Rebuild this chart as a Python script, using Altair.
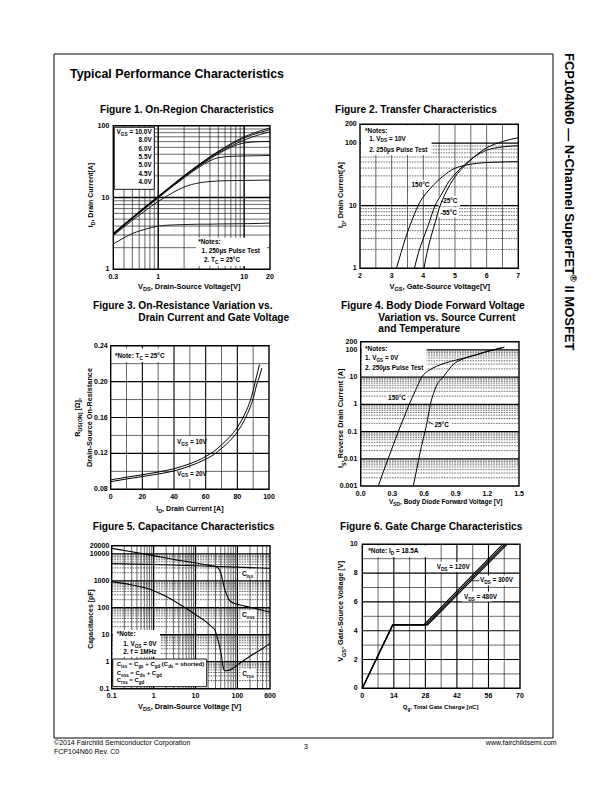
import math
import re
import altair as alt
import pandas as pd

# ---------------------------------------------------------------
# Values
# ---------------------------------------------------------------
# Figure 1 - On-Region Characteristics: I_D [A] vs V_DS [V] (log-log)
f1_vds = [0.3, 0.4, 0.5, 0.7, 1, 1.5, 2, 3, 4, 5, 7, 10, 15, 20]
f1_id_10v = [3.2, 4.25, 5.3, 7.4, 10.4, 15.4, 20.2, 29.0, 37.0, 44.0, 56.0, 70.0, 84.0, 93.0]
f1_id_8v = [3.15, 4.2, 5.25, 7.3, 10.3, 15.2, 19.9, 28.6, 36.4, 43.2, 54.5, 67.5, 80.0, 88.0]
f1_id_6v = [3.1, 4.15, 5.2, 7.25, 10.2, 15.0, 19.6, 28.0, 35.5, 42.0, 52.0, 63.0, 75.0, 82.0]
f1_id_5v5 = [3.05, 4.1, 5.15, 7.15, 10.1, 14.9, 19.3, 27.5, 34.5, 40.5, 50.0, 57.5, 60.0, 60.5]
f1_id_5v = [3.0, 4.05, 5.05, 7.0, 9.9, 14.5, 18.8, 26.5, 32.5, 35.8, 37.4, 37.9, 38.2, 38.5]
f1_id_4v5 = [2.95, 3.9, 4.8, 6.5, 8.8, 11.8, 14.0, 16.0, 16.7, 17.0, 17.2, 17.3, 17.4, 17.5]
f1_id_4v = [2.25, 2.75, 3.15, 3.6, 4.0, 4.15, 4.2, 4.25, 4.25, 4.28, 4.3, 4.32, 4.35, 4.4]
f1_legend = ["V_{GS} = 10.0V", "8.0V", "6.0V", "5.5V", "5.0V", "4.5V", "4.0V"]
f1_xticks = [0.3, 1, 10, 20]
f1_xlabels = ["0.3", "1", "10", "20"]
f1_yticks = [1, 10, 100]
f1_ylabels = ["1", "10", "100"]

# Figure 2 - Transfer Characteristics: I_D [A] vs V_GS [V]
f2_vgs_150c = [3.15, 3.3, 3.47, 3.65, 3.9, 4.1, 4.32, 4.6, 5.0, 5.3, 5.7, 6.2, 7.0]
f2_id_150c = [1.0, 1.8, 3.4, 6.0, 11.6, 16.0, 21.4, 29.0, 39.7, 44.0, 47.7, 49.5, 50.6]
f2_vgs_25c = [3.72, 3.85, 4.0, 4.15, 4.37, 4.6, 4.8, 5.0, 5.3, 5.6, 6.0, 6.5, 7.0]
f2_id_25c = [1.0, 1.8, 3.0, 4.8, 10.0, 16.0, 24.0, 32.0, 45.0, 60.0, 77.0, 87.0, 91.0]
f2_vgs_m55c = [4.02, 4.12, 4.25, 4.37, 4.5, 4.65, 4.85, 5.0, 5.3, 5.6, 6.0, 6.5, 7.0]
f2_id_m55c = [1.0, 1.8, 3.3, 5.3, 9.0, 14.0, 22.0, 29.0, 43.0, 60.0, 84.0, 106.0, 122.0]
f2_xticks = [2, 3, 4, 5, 6, 7]
f2_xlabels = ["2", "3", "4", "5", "6", "7"]
f2_yticks = [1, 10, 100, 200]
f2_ylabels = ["1", "10", "100", "200"]

# Figure 3 - On-Resistance vs Drain Current
f3_id_10v = [0, 10, 20, 30, 40, 50, 60, 65, 70, 75, 80, 85, 88, 90, 92, 94]
f3_r_10v = [0.0905, 0.0935, 0.0962, 0.0992, 0.1030, 0.1085, 0.1165, 0.122, 0.1295, 0.138,
            0.149, 0.165, 0.178, 0.190, 0.205, 0.219]
f3_id_20v = [0, 10, 20, 30, 40, 50, 60, 65, 70, 75, 80, 85, 88, 90, 92, 94, 95.5]
f3_r_20v = [0.0885, 0.0915, 0.0942, 0.097, 0.1005, 0.106, 0.1135, 0.1185, 0.1255, 0.1335,
            0.144, 0.159, 0.171, 0.181, 0.195, 0.206, 0.215]
f3_xticks = [0, 20, 40, 60, 80, 100]
f3_xlabels = ["0", "20", "40", "60", "80", "100"]
f3_yticks = [0.08, 0.12, 0.16, 0.20, 0.24]
f3_ylabels = ["0.08", "0.12", "0.16", "0.20", "0.24"]

# Figure 4 - Body Diode Forward Voltage: I_S [A] vs V_SD [V]
f4_vsd_150c = [0.167, 0.21, 0.26, 0.31, 0.356, 0.41, 0.46, 0.52, 0.578, 0.65, 0.72, 0.80,
               0.90, 1.0, 1.1, 1.2, 1.28, 1.36]
f4_is_150c = [0.001, 0.003, 0.01, 0.033, 0.1, 0.33, 1.0, 3.3, 10, 18, 25, 33, 42, 52, 67, 88, 105, 125]
f4_vsd_25c = [0.498, 0.53, 0.56, 0.59, 0.61, 0.635, 0.66, 0.69, 0.72, 0.78, 0.83, 0.88, 0.95,
              1.02, 1.1, 1.2, 1.28, 1.36]
f4_is_25c = [0.001, 0.004, 0.015, 0.05, 0.1, 0.3, 1.0, 2.5, 5.0, 10, 18, 30, 43, 55, 67, 88, 105, 125]
f4_xticks = [0.0, 0.3, 0.6, 0.9, 1.2, 1.5]
f4_xlabels = ["0.0", "0.3", "0.6", "0.9", "1.2", "1.5"]
f4_yticks = [0.001, 0.01, 0.1, 1, 10, 100, 200]
f4_ylabels = ["0.001", "0.01", "0.1", "1", "10", "100", "200"]

# Figure 5 - Capacitance Characteristics [pF] vs V_DS [V]
f5_vds_ciss = [0.1, 1, 10, 100, 600]
f5_ciss = [4400, 4000, 3600, 3200, 2900]
f5_vds_coss = [0.1, 0.3, 1, 3, 10, 20, 30, 35, 40, 46, 50, 56, 66, 80, 115, 200, 350, 600]
f5_coss = [16000, 12000, 8600, 6200, 4600, 3800, 3350, 2900, 2000, 800, 480, 290, 180, 150, 126, 105, 85, 68]
f5_vds_crss = [0.1, 0.3, 1, 2, 4, 6, 10, 18, 25, 29, 33, 38.5, 42, 46, 50, 60, 75, 100, 200, 400, 600]
f5_crss = [930, 700, 430, 260, 140, 96, 55, 30, 19, 15, 8, 3.1, 1.5, 0.6, 0.46, 0.47, 0.55, 0.76, 1.6, 3.1, 4.8]
f5_xticks = [0.1, 1, 10, 100, 600]
f5_xlabels = ["0.1", "1", "10", "100", "600"]
f5_yticks = [0.1, 1, 10, 100, 1000, 10000, 20000]
f5_ylabels = ["0.1", "1", "10", "100", "1000", "10000", "20000"]

# Figure 6 - Gate Charge: V_GS [V] vs Q_g [nC]
f6_vgs = [0, 4.4, 4.4, 10]
f6_qg_120v = [0, 13.5, 27.3, 62.3]
f6_qg_300v = [0, 13.5, 28.2, 63.3]
f6_qg_480v = [0, 13.5, 29.0, 64.2]
f6_xticks = [0, 14, 28, 42, 56, 70]
f6_xlabels = ["0", "14", "28", "42", "56", "70"]
f6_yticks = [0, 2, 4, 6, 8, 10]
f6_ylabels = ["0", "2", "4", "6", "8", "10"]

# ---------------------------------------------------------------
# Text helpers (Arial / Liberation Sans metrics, per 1000 em)
# ---------------------------------------------------------------
M = 8
FONT = "Liberation Sans"
ONE = pd.DataFrame({"k": [0]})


def _table(lower, upper, extra):
    t = {}
    for c, w in zip("abcdefghijklmnopqrstuvwxyz", lower):
        t[c] = w
    for c, w in zip("ABCDEFGHIJKLMNOPQRSTUVWXYZ", upper):
        t[c] = w
    for c in "0123456789":
        t[c] = 556
    t.update(extra)
    return t


_EXTRA = {" ": 278, ",": 278, ".": 278, "-": 333, ":": 333, "*": 389, "+": 584, "=": 584,
          "(": 333, ")": 333, "[": 333, "]": 333, "°": 400, "µ": 600, "Ω": 768, "®": 737,
          "©": 737, "—": 1000}
BOLD = _table([556, 611, 556, 611, 556, 333, 611, 611, 278, 278, 556, 278, 889, 611, 611, 611, 611,
               389, 556, 333, 611, 556, 778, 556, 556, 500],
              [722, 722, 722, 722, 667, 611, 778, 722, 278, 556, 722, 611, 833, 722, 778, 667, 778,
               722, 667, 611, 722, 667, 944, 667, 667, 611], _EXTRA)
REG = _table([556, 556, 500, 556, 556, 278, 556, 556, 222, 222, 500, 222, 833, 556, 556, 556, 556,
              333, 500, 278, 556, 500, 722, 500, 500, 500],
             [667, 667, 722, 722, 667, 611, 778, 722, 278, 500, 667, 556, 833, 722, 778, 667, 778,
              722, 667, 611, 722, 667, 944, 667, 667, 611], _EXTRA)

TOKEN = re.compile(r"_\{([^}]*)\}|\^\{([^}]*)\}|([^_^]+)")
SUB = 0.74


def tw(s, fs, table):
    return sum(table.get(c, 556) for c in s) * fs / 1000.0


def parse(markup):
    out = []
    for g in TOKEN.finditer(markup):
        if g.group(1) is not None:
            out.append((g.group(1), "s"))
        elif g.group(2) is not None:
            out.append((g.group(2), "p"))
        else:
            out.append((g.group(3), "n"))
    return out


def text_layers(markup, size, enc, data, align="left", weight="bold", angle=0):
    table = BOLD if weight == "bold" else REG
    pieces = []
    adv = 0.0
    for t, kind in parse(markup):
        fs = size if kind == "n" else size * SUB
        dy = 0.0 if kind == "n" else (size * 0.3 if kind == "s" else -size * 0.42)
        lead = len(t) - len(t.lstrip(" "))
        s = t.strip(" ")
        if s:
            pieces.append((s, adv + tw(t[:lead], fs, table), dy, fs))
        adv += tw(t, fs, table)
    start = {"left": 0.0, "center": -adv / 2.0, "right": -adv}[align]
    out = []
    for s, a, dy, fs in pieces:
        out.append(
            alt.Chart(data).mark_text(
                text=s, align="left", baseline="alphabetic", dx=round(start + a, 2),
                dy=round(dy, 2), fontSize=round(fs, 2), font=FONT, fontWeight=weight,
                angle=angle, color="black",
            ).encode(**enc)
        )
    return out


def page_text(markup, x, y, size, align="left", weight="bold", angle=0):
    enc = {"x": alt.value(round(x - M, 2)), "y": alt.value(round(y - M, 2))}
    return text_layers(markup, size, enc, ONE, align=align, weight=weight, angle=angle)


def log_lines(lo, hi):
    minor, major = [], []
    e = math.floor(math.log10(lo) + 1e-9)
    while 10 ** e < hi * 1.0001:
        for k in range(1, 10):
            v = round(k * 10 ** e, 10)
            if lo * 1.0001 < v < hi * 0.9999:
                (major if k == 1 else minor).append(v)
        e += 1
    return minor, major


def lin_lines(lo, hi, step):
    n = int(round((hi - lo) / step))
    return [round(lo + i * step, 10) for i in range(1, n)]


class Fig:
    def __init__(self, xtype, xdom, xpx, ytype, ydom, ypx):
        self.xdom, self.ydom = xdom, ydom
        self.xs = self._scale(xtype, xdom, xpx)
        self.ys = self._scale(ytype, ydom, ypx)
        self.L = []

    @staticmethod
    def _scale(t, dom, rng):
        if t == "log":
            return alt.Scale(type="log", domain=dom, range=[rng[0] - M, rng[1] - M], nice=False)
        return alt.Scale(type="linear", domain=dom, range=[rng[0] - M, rng[1] - M], nice=False, zero=False)

    def X(self, f):
        return alt.X(f + ":Q", scale=self.xs, axis=None)

    def Y(self, f):
        return alt.Y(f + ":Q", scale=self.ys, axis=None)

    def vgrid(self, vals, w, color="black", dash=None):
        if not vals:
            return
        df = pd.DataFrame({"v": vals, "a": [self.ydom[0]] * len(vals), "b": [self.ydom[1]] * len(vals)})
        kw = dict(color=color, strokeWidth=w)
        if dash:
            kw["strokeDash"] = dash
        self.L.append(alt.Chart(df).mark_rule(**kw).encode(x=self.X("v"), y=self.Y("a"), y2="b:Q"))

    def hgrid(self, vals, w, color="black", dash=None):
        if not vals:
            return
        df = pd.DataFrame({"v": vals, "a": [self.xdom[0]] * len(vals), "b": [self.xdom[1]] * len(vals)})
        kw = dict(color=color, strokeWidth=w)
        if dash:
            kw["strokeDash"] = dash
        self.L.append(alt.Chart(df).mark_rule(**kw).encode(y=self.Y("v"), x=self.X("a"), x2="b:Q"))

    def box(self, x0, x1, y0, y1, border=False):
        df = pd.DataFrame({"x0": [x0], "x1": [x1], "y0": [y0], "y1": [y1]})
        kw = dict(fill="white")
        if border:
            kw.update(stroke="black", strokeWidth=0.9)
        self.L.append(alt.Chart(df).mark_rect(**kw).encode(
            x=self.X("x0"), x2="x1:Q", y=self.Y("y0"), y2="y1:Q"))

    def frame(self):
        df = pd.DataFrame({"x0": [self.xdom[0]], "x1": [self.xdom[1]],
                           "y0": [self.ydom[0]], "y1": [self.ydom[1]]})
        self.L.append(alt.Chart(df).mark_rect(fill="white", fillOpacity=0, stroke="black",
                                              strokeWidth=1.4).encode(
            x=self.X("x0"), x2="x1:Q", y=self.Y("y0"), y2="y1:Q"))

    def curves(self, series, w=1.0, interp="monotone"):
        rows = []
        for name, xv, yv in series:
            for i, (a, b) in enumerate(zip(xv, yv)):
                rows.append({"s": name, "i": i, "x": a, "y": b})
        df = pd.DataFrame(rows)
        self.L.append(alt.Chart(df).mark_line(color="black", strokeWidth=w, interpolate=interp).encode(
            x=self.X("x"), y=self.Y("y"), detail="s:N", order="i:Q"))

    def seg(self, x0, y0, x1, y1, w=0.8):
        df = pd.DataFrame({"x": [x0, x1], "y": [y0, y1]})
        self.L.append(alt.Chart(df).mark_line(color="black", strokeWidth=w).encode(
            x=self.X("x"), y=self.Y("y")))

    def note(self, markup, x, y, size=6.4, align="left"):
        df = pd.DataFrame({"x": [x], "y": [y]})
        self.L += text_layers(markup, size, {"x": self.X("x"), "y": self.Y("y")}, df, align=align)

    def xticks(self, vals, labels, base, size=7):
        df = pd.DataFrame({"v": vals, "t": labels})
        self.L.append(alt.Chart(df).mark_text(align="center", baseline="alphabetic", fontSize=size,
                                              font=FONT, fontWeight="bold", color="black").encode(
            x=self.X("v"), y=alt.value(base - M), text="t:N"))

    def yticks(self, vals, labels, right, size=7):
        df = pd.DataFrame({"v": vals, "t": labels})
        self.L.append(alt.Chart(df).mark_text(align="right", baseline="middle", fontSize=size,
                                              font=FONT, fontWeight="bold", color="black").encode(
            y=self.Y("v"), x=alt.value(right - M), text="t:N"))

    def ptext(self, markup, x, y, size, align="left", angle=0):
        self.L += page_text(markup, x, y, size, align=align, angle=angle)


DASH = [1.6, 1.0]

# ---------------- Figure 1 ----------------
f1 = Fig("log", [0.3, 20], (113.3, 270), "log", [1, 100], (269.3, 125.7))
mn, mj = log_lines(0.3, 20)
f1.vgrid(mn, 0.6)
f1.vgrid(mj, 1.4)
mn, mj = log_lines(1, 100)
f1.hgrid(mn, 0.6)
f1.hgrid(mj, 1.4)
f1.box(0.308, 0.90, 13.0, 95, border=True)
f1.box(2.75, 18.5, 1.11, 2.75)
f1.curves([("10", f1_vds, f1_id_10v), ("8", f1_vds, f1_id_8v), ("6", f1_vds, f1_id_6v),
           ("5.5", f1_vds, f1_id_5v5), ("5", f1_vds, f1_id_5v), ("4.5", f1_vds, f1_id_4v5),
           ("4", f1_vds, f1_id_4v)], w=0.9)
f1.frame()
for lab, yv in zip(f1_legend, [76.6, 58.7, 45.0, 34.4, 26.3, 20.2, 15.4]):
    f1.note(lab, 0.84, yv, align="right")
f1.note("*Notes:", 2.92, 2.25)
f1.note("1. 250µs Pulse Test", 3.2, 1.71)
f1.note("2. T_{C} = 25°C", 3.41, 1.25)
f1.xticks(f1_xticks, f1_xlabels, 279)
f1.yticks(f1_yticks, f1_ylabels, 109.3)
f1.ptext("Figure 1. On-Region Characteristics", 100, 112.5, 10.2)
f1.ptext("V_{DS}, Drain-Source Voltage[V]", 189.5, 288.7, 7.5, align="center")
f1.ptext("I_{D}, Drain Current[A]", 93.0, 195, 7.0, align="center", angle=270)

# ---------------- Figure 2 ----------------
f2 = Fig("linear", [2, 7], (360, 518.3), "log", [1, 200], (268.3, 124.3))
f2.vgrid(lin_lines(2, 7, 0.5), 0.6)
mn, mj = log_lines(1, 200)
f2.hgrid(mn, 0.7, color="#333333", dash=DASH)
f2.hgrid(mj, 1.3)
f2.box(2.03, 4.26, 64.6, 193)
f2.box(3.6, 4.22, 17.8, 25.8)
f2.box(4.48, 5.16, 9.9, 14.3)
f2.box(4.48, 5.13, 6.5, 9.4)
f2.curves([("150", f2_vgs_150c, f2_id_150c), ("25", f2_vgs_25c, f2_id_25c),
           ("-55", f2_vgs_m55c, f2_id_m55c)], w=1.0)
f2.frame()
f2.note("*Notes:", 2.16, 145)
f2.note("1. V_{DS} = 10V", 2.29, 110)
f2.note("2. 250µs Pulse Test", 2.29, 73.3)
f2.note("150°C", 3.91, 19.7, align="center")
f2.note("-25°C", 4.82, 10.9, align="center")
f2.note("-55°C", 4.80, 7.2, align="center")
f2.xticks(f2_xticks, f2_xlabels, 278)
f2.yticks(f2_yticks, f2_ylabels, 356.7)
f2.ptext("Figure 2. Transfer Characteristics", 335, 112.5, 10.2)
f2.ptext("V_{GS}, Gate-Source Voltage[V]", 440, 288.7, 7.5, align="center")
f2.ptext("I_{D}, Drain Current[A]", 343.4, 195, 7.2, align="center", angle=270)

# ---------------- Figure 3 ----------------
f3 = Fig("linear", [0, 100], (110.7, 269), "linear", [0.08, 0.24], (489.3, 345.7))
f3.vgrid([10, 30, 50, 70, 90], 0.6)
f3.vgrid([20, 40, 60, 80], 1.1)
f3.hgrid([0.10, 0.14, 0.18, 0.22], 0.6)
f3.hgrid([0.12, 0.16, 0.20], 1.1)
f3.box(1.45, 34.9, 0.2218, 0.2369)
f3.box(40.6, 59.6, 0.1266, 0.1394)
f3.box(40.6, 59.6, 0.0915, 0.1030)
f3.curves([("10", f3_id_10v, f3_r_10v), ("20", f3_id_20v, f3_r_20v)], w=1.0)
f3.frame()
f3.note("*Note: T_{C} = 25°C", 2.7, 0.2265)
f3.note("V_{GS} = 10V", 41.9, 0.1301)
f3.note("V_{GS} = 20V", 41.9, 0.0953)
f3.xticks(f3_xticks, f3_xlabels, 498.7)
f3.yticks(f3_yticks, f3_ylabels, 107.7)
f3.ptext("Figure 3. On-Resistance Variation vs.", 93, 308.5, 10.2)
f3.ptext("Drain Current and Gate Voltage", 138.3, 320.5, 10.2)
f3.ptext("I_{D}, Drain Current [A]", 190, 510.5, 7.1, align="center")
f3.ptext("R_{DS(ON)} [Ω],", 80.3, 417.5, 7.2, align="center", angle=270)
f3.ptext("Drain-Source On-Resistance", 92.2, 417.5, 7.3, align="center", angle=270)

# ---------------- Figure 4 ----------------
f4 = Fig("linear", [0, 1.5], (360.7, 519), "log", [0.001, 200], (486, 341.7))
mn, mj = log_lines(0.001, 200)
f4.hgrid(mn, 0.7, color="#333333", dash=DASH)
f4.hgrid(mj, 1.3)
f4.box(0.0095, 0.625, 13.8, 179)
f4.box(0.246, 0.442, 1.22, 2.68)
f4.box(0.68, 0.856, 0.114, 0.266)
f4.curves([("150", f4_vsd_150c, f4_is_150c), ("25", f4_vsd_25c, f4_is_25c)], w=1.0)
f4.seg(0.641, 0.23, 0.69, 0.185)
f4.frame()
f4.note("*Notes:", 0.041, 95)
f4.note("1. V_{GS} = 0V", 0.041, 42.6)
f4.note("2. 250µs Pulse Test", 0.041, 17.5)
f4.note("150°C", 0.344, 1.47, align="center")
f4.note("25°C", 0.767, 0.1435, align="center")
f4.xticks(f4_xticks, f4_xlabels, 496)
f4.yticks(f4_yticks, f4_ylabels, 357.3)
f4.ptext("Figure 4. Body Diode Forward Voltage", 341, 308.5, 10.2)
f4.ptext("Variation vs. Source Current", 378.3, 320.5, 10.2)
f4.ptext("and Temperature", 378.3, 332.3, 10.2)
f4.ptext("V_{SD}, Body Diode Forward Voltage [V]", 446, 504.4, 6.5, align="center")
f4.ptext("I_{S}, Reverse Drain Current [A]", 343.4, 418.3, 7.3, align="center", angle=270)

# ---------------- Figure 5 ----------------
f5 = Fig("log", [0.1, 600], (111.7, 270), "log", [0.1, 20000], (688.7, 545.7))
mn, mj = log_lines(0.1, 600)
f5.vgrid(mn, 0.6)
f5.vgrid(mj, 1.3)
mn, mj = log_lines(0.1, 20000)
f5.hgrid(mn, 0.7, color="#222222", dash=DASH)
f5.hgrid(mj, 1.3)
f5.box(0.106, 1.42, 1.53, 15)
f5.box(0.106, 18.5, 0.1186, 1.26, border=True)
f5.box(118.6, 263, 1268, 2620)
f5.box(118.6, 286, 35.2, 82.6)
f5.box(118.6, 277, 0.229, 0.537)
f5.curves([("ciss", f5_vds_ciss, f5_ciss), ("coss", f5_vds_coss, f5_coss),
           ("crss", f5_vds_crss, f5_crss)], w=1.1)
f5.frame()
f5.note("*Note:", 0.1316, 8.75)
f5.note("1. V_{GS} = 0V", 0.189, 3.95)
f5.note("2. f = 1MHz", 0.189, 1.93)
f5.note("C_{iss} = C_{gs} + C_{gd} (C_{ds} = shorted)", 0.1316, 0.693, size=6.0)
f5.note("C_{oss} = C_{ds} + C_{gd}", 0.1316, 0.33, size=6.0)
f5.note("C_{rss} = C_{gd}", 0.1316, 0.1727, size=6.0)
f5.note("C_{iss}", 174, 1503, align="center")
f5.note("C_{oss}", 182, 44.3, align="center")
f5.note("C_{rss}", 179, 0.288, align="center")
f5.xticks(f5_xticks, f5_xlabels, 698)
f5.yticks(f5_yticks, f5_ylabels, 109.3)
f5.ptext("Figure 5. Capacitance Characteristics", 92.7, 530, 10.2)
f5.ptext("V_{DS}, Drain-Source Voltage [V]", 190, 708.7, 7.4, align="center")
f5.ptext("Capacitances [pF]", 93.4, 619, 6.9, align="center", angle=270)

# ---------------- Figure 6 ----------------
f6 = Fig("linear", [0, 70], (362.3, 520), "linear", [0, 10], (688.3, 544.3))
f6.vgrid([7, 21, 35, 49, 63], 0.6)
f6.vgrid([14, 28, 42, 56], 1.1)
f6.hgrid([1, 3, 5, 7, 9], 0.6)
f6.hgrid([2, 4, 6, 8], 1.1)
f6.box(0.53, 28.7, 9.12, 9.92)
f6.box(32, 45.6, 8.08, 8.77)
f6.box(51.8, 64.2, 7.14, 7.83)
f6.box(44.3, 57.6, 6.03, 6.72)
f6.curves([("120", f6_qg_120v, f6_vgs), ("300", f6_qg_300v, f6_vgs),
           ("480", f6_qg_480v, f6_vgs)], w=1.2, interp="linear")
f6.seg(48.6, 7.47, 52.0, 7.47)
f6.frame()
f6.note("*Note: I_{D} = 18.5A", 2.66, 9.4)
f6.note("V_{DS} = 120V", 33.0, 8.28)
f6.note("V_{DS} = 300V", 52.2, 7.35)
f6.note("V_{DS} = 480V", 45.1, 6.2)
f6.xticks(f6_xticks, f6_xlabels, 698)
f6.yticks(f6_yticks, f6_ylabels, 357.7)
f6.ptext("Figure 6. Gate Charge Characteristics", 340, 529.5, 10.2)
f6.ptext("Q_{g}, Total Gate Charge [nC]", 440.8, 708.7, 6.0, align="center")
f6.ptext("V_{GS}, Gate-Source Voltage [V]", 343.4, 611, 7.4, align="center", angle=270)

# ---------------- Page furniture ----------------
page = [
    alt.Chart(ONE).mark_rect(fill="white", fillOpacity=0, stroke="black", strokeWidth=1).encode(
        x=alt.value(54 - M), x2=alt.value(553 - M), y=alt.value(54 - M), y2=alt.value(738 - M))
]
page += page_text("Typical Performance Characteristics", 70, 78, 12.4)
page += page_text("FCP104N60 — N-Channel SuperFET^{®} II MOSFET", 564.5, 53, 13.0,
                  weight="bold", angle=90)
page += page_text("©2014 Fairchild Semiconductor Corporation", 54, 745, 7, weight="normal")
page += page_text("FCP104N60 Rev. C0", 54, 754, 7, weight="normal")
page += page_text("3", 306, 749, 7, align="center", weight="normal")
page += page_text("www.fairchildsemi.com", 557, 745, 7, align="right", weight="normal")

figs = [f1, f2, f3, f4, f5, f6]
chart = alt.layer(*page, *[alt.layer(*f.L) for f in figs]).resolve_scale(
    x="independent", y="independent"
).properties(
    width=596, height=776, padding=0,
    autosize=alt.AutoSizeParams(type="none"), background="white",
).configure_view(strokeWidth=0)

chart.save("out.html", embed_options={"renderer": "svg", "actions": False})
